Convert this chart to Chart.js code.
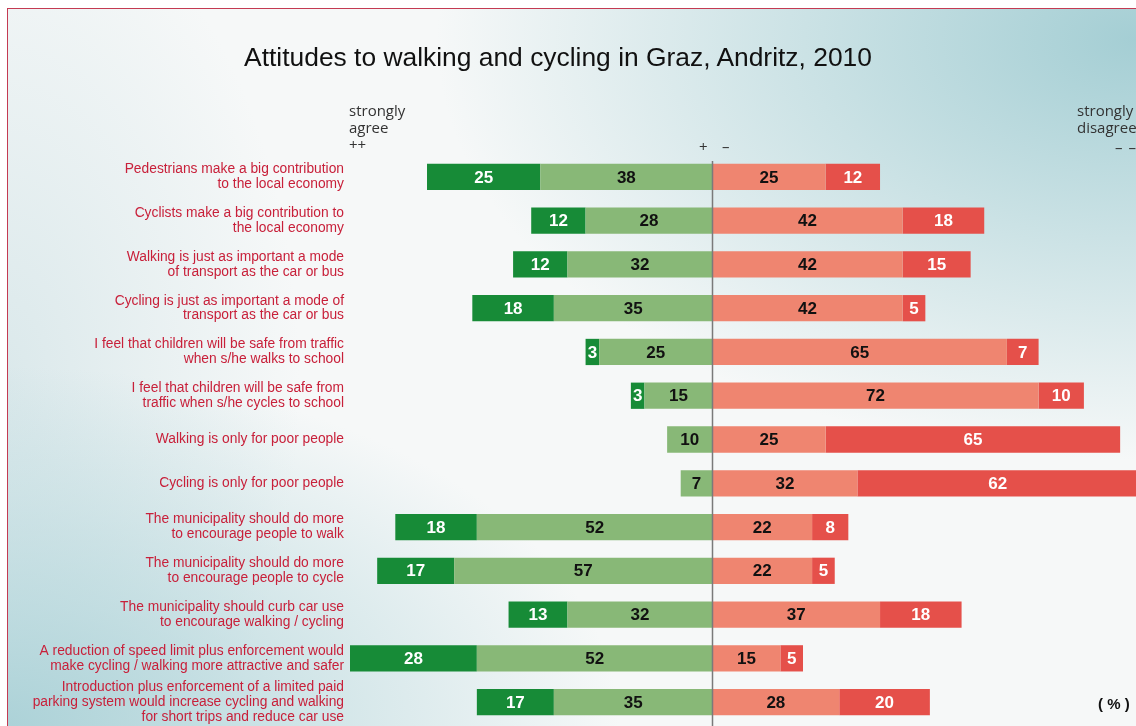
<!DOCTYPE html>
<html>
<head>
<meta charset="utf-8">
<script src="https://cdn.jsdelivr.net/npm/chart.js@4/dist/chart.umd.min.js"></script>
<style>
    html, body {
        margin: 0;
        padding: 0;
        overflow: hidden;
        background: #ffffff;
    }
    #page {
        position: relative;
        width: 1136px;
        height: 726px;
        overflow: hidden;
        background-color: #f6f8f8;
        background-image:
            radial-gradient(ellipse 700px 420px at 1136px 40px, rgba(160, 204, 210, 0.95), rgba(160, 204, 210, 0)),
            radial-gradient(ellipse 620px 360px at 0px 726px, rgba(168, 208, 214, 0.95), rgba(168, 208, 214, 0)),
            radial-gradient(ellipse 300px 500px at 0px 380px, rgba(200, 222, 226, 0.6), rgba(200, 222, 226, 0));
    }
    #frame {
        position: absolute;
        left: 7px;
        top: 8px;
        width: 1140px;
        height: 730px;
        border-left: 1.5px solid #c43a52;
        border-top: 1.5px solid #c43a52;
        pointer-events: none;
    }
    #topStrip {
        position: absolute;
        left: 0;
        top: 0;
        width: 1136px;
        height: 8px;
        background: #ffffff;
    }
    #leftStrip {
        position: absolute;
        left: 0;
        top: 0;
        width: 7px;
        height: 726px;
        background: #ffffff;
    }
    #chartBox {
        position: absolute;
        left: 0;
        top: 0;
        width: 1136px;
        height: 726px;
    }
    .txt {
        position: absolute;
        font-family: "Open Sans", "DejaVu Sans", sans-serif;
        color: #333333;
        white-space: nowrap;
    }
    #title {
        left: 0;
        width: 1116px;
        top: 42px;
        text-align: center;
        font-family: "Liberation Sans", Arial, sans-serif;
        font-size: 26.4px;
        color: #111111;
    }
    #agree {
        left: 349px;
        top: 102px;
        font-size: 15px;
        line-height: 17px;
    }
    #disagree {
        left: 1077px;
        top: 102px;
        font-size: 15px;
        line-height: 17px;
    }
    #plus {
        left: 699px;
        top: 136px;
        font-size: 15px;
    }
    #minus {
        left: 722px;
        top: 136px;
        font-size: 15px;
    }
    #minus2 {
        left: 1115px;
        top: 137px;
        font-size: 15px;
        letter-spacing: 1px;
    }
    #pct {
        left: 1098px;
        top: 695px;
        font-family: "Liberation Sans", Arial, sans-serif;
        font-weight: bold;
        font-size: 15px;
        color: #111111;
    }
</style>
</head>
<body>
<div id="page">
    <div id="topStrip"></div>
    <div id="leftStrip"></div>
    <div id="frame"></div>
    <div id="chartBox"><canvas id="attitudeChart"></canvas></div>
    <div class="txt" id="title">Attitudes to walking and cycling in Graz, Andritz, 2010</div>
    <div class="txt" id="agree">strongly<br>agree<br>++</div>
    <div class="txt" id="plus">+</div>
    <div class="txt" id="minus">–</div>
    <div class="txt" id="disagree">strongly<br>disagree</div>
    <div class="txt" id="minus2">– –</div>
    <div class="txt" id="pct">( % )</div>
</div>

<script>
// Statements (y axis)
const statements = [
    ["Pedestrians make a big contribution", "to the local economy"],
    ["Cyclists make a big contribution to", "the local economy"],
    ["Walking is just as important a mode", "of transport as the car or bus"],
    ["Cycling is just as important a mode of", "transport as the car or bus"],
    ["I feel that children will be safe from traffic", "when s/he walks to school"],
    ["I feel that children will be safe from", "traffic when s/he cycles to school"],
    "Walking is only for poor people",
    "Cycling is only for poor people",
    ["The municipality should do more", "to encourage people to walk"],
    ["The municipality should do more", "to encourage people to cycle"],
    ["The municipality should curb car use", "to encourage walking / cycling"],
    ["A reduction of speed limit plus enforcement would", "make cycling / walking more attractive and safer"],
    ["Introduction plus enforcement of a limited paid", "parking system would increase cycling and walking", "for short trips and reduce car use"]
];

// Shares in %
const stronglyAgree = [25, 12, 12, 18, 3, 3, 0, 0, 18, 17, 13, 28, 17];
const agree = [38, 28, 32, 35, 25, 15, 10, 7, 52, 57, 32, 52, 35];
const disagree = [25, 42, 42, 42, 65, 72, 25, 32, 22, 22, 37, 15, 28];
const stronglyDisagree = [12, 18, 15, 5, 7, 10, 65, 62, 8, 5, 18, 5, 20];

// Colours
const darkGreen = "#178b37";
const lightGreen = "#88b877";
const salmon = "#ef8570";
const red = "#e5504a";

// Value labels inside the bars
const valueLabels = {
    id: "valueLabels",
    afterDatasetsDraw(chart) {
        const ctx = chart.ctx;
        ctx.save();
        ctx.font = "bold 17px 'Liberation Sans', Arial, sans-serif";
        ctx.textAlign = "center";
        ctx.textBaseline = "middle";
        chart.data.datasets.forEach((ds, i) => {
            const meta = chart.getDatasetMeta(i);
            meta.data.forEach((bar, j) => {
                const v = Math.abs(ds.data[j]);
                if (!v) return;
                ctx.fillStyle = ds.labelColor;
                ctx.fillText(v, (bar.x + bar.base) / 2, bar.y + 1);
            });
        });
        ctx.restore();
    }
};

// Zero line
const zeroLine = {
    id: "zeroLine",
    afterDatasetsDraw(chart) {
        const ctx = chart.ctx;
        const x = Math.round(chart.scales.x.getPixelForValue(0)) + 0.5;
        ctx.save();
        ctx.strokeStyle = "#7a7a7a";
        ctx.lineWidth = 1.5;
        ctx.beginPath();
        ctx.moveTo(x, chart.chartArea.top + 6);
        ctx.lineTo(x, chart.chartArea.bottom + 4);
        ctx.stroke();
        ctx.restore();
    }
};

const attitudeChart = new Chart(document.getElementById("attitudeChart"), {
    type: "bar",
    data: {
        labels: statements,
        datasets: [
            {
                label: "agree",
                data: agree.map(v => -v),
                backgroundColor: lightGreen,
                labelColor: "#111111"
            },
            {
                label: "strongly agree",
                data: stronglyAgree.map(v => -v),
                backgroundColor: darkGreen,
                labelColor: "#ffffff"
            },
            {
                label: "disagree",
                data: disagree,
                backgroundColor: salmon,
                labelColor: "#111111"
            },
            {
                label: "strongly disagree",
                data: stronglyDisagree,
                backgroundColor: red,
                labelColor: "#ffffff"
            }
        ]
    },
    options: {
        indexAxis: "y",
        responsive: true,
        maintainAspectRatio: false,
        animation: false,
        layout: {
            padding: { top: 155, bottom: 2, left: 0, right: 0 }
        },
        datasets: {
            bar: {
                categoryPercentage: 1,
                barPercentage: 0.6,
                borderWidth: 0
            }
        },
        scales: {
            x: {
                stacked: true,
                display: false,
                min: -80,
                max: 93.5
            },
            y: {
                stacked: true,
                grid: { display: false, drawTicks: false },
                border: { display: false },
                ticks: {
                    autoSkip: false,
                    padding: 6,
                    color: "#c8203a",
                    font: {
                        family: "'Liberation Sans', Arial, sans-serif",
                        size: 13.8,
                        lineHeight: 1.08
                    }
                },
                afterFit(scale) {
                    scale.width = 350;
                    scale.paddingTop = 0;
                    scale.paddingBottom = 0;
                }
            }
        },
        plugins: {
            legend: { display: false },
            tooltip: { enabled: false }
        }
    },
    plugins: [valueLabels, zeroLine]
});
</script>
</body>
</html>
